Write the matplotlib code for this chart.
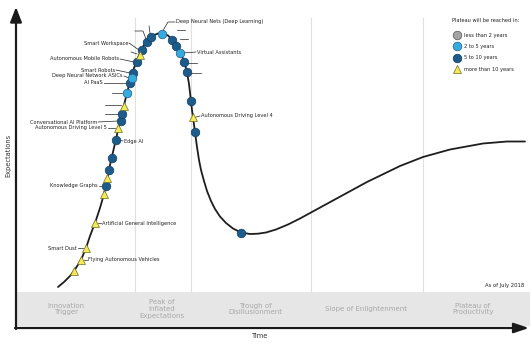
import matplotlib
matplotlib.use('Agg')
import matplotlib.pyplot as plt
from matplotlib import font_manager

# hype cycle curve (pixel coords, y down)
curve_x = [58, 64, 70, 74, 81, 86, 90, 95, 100, 104, 107, 110, 113, 116, 119, 122, 125, 128, 131, 134,
           137, 140, 144, 148, 153, 158, 163, 168, 172, 176, 180, 184, 187, 189, 190.5, 192, 193.5, 195,
           197, 199, 201, 204, 207, 211, 215, 220, 226, 233, 241, 250, 258, 266, 276, 288, 300, 311,
           333, 367, 400, 423, 450, 483, 507, 525]
curve_y = [287, 282, 276, 271, 260, 248, 236, 223, 208, 194, 180, 165, 152, 139, 126, 114, 101, 89, 78, 68,
           60, 53, 45, 39, 35.5, 33.5, 33.5, 35.5, 39.5, 45, 52, 61, 72, 84, 97, 110, 121, 132,
           147, 160, 170, 181, 191, 201, 209, 216.5, 223, 228.5, 232.5, 234, 233.7, 232.5, 229.5, 224.5, 218.5, 212.5,
           200.5, 182, 166, 157, 149.5, 143.5, 141.5, 141.5]

# technologies on the curve: position, years to plateau, label
tech_x = [74, 81, 86, 95, 104, 106, 107, 109, 112, 116, 118, 121, 122, 124, 127, 130, 132, 133,
          137, 140, 142, 147, 151, 162, 172, 176, 180, 184, 187, 191, 193, 195, 241]
tech_y = [271, 260, 248, 223, 194, 186, 178, 170, 158, 140, 128, 121, 114, 106, 93, 83, 78, 73,
          62, 55, 50, 42, 37, 33.5, 40, 46, 53, 62, 72, 101, 117, 132, 233]
tech_cat = ['>10', '>10', '>10', '>10', '>10', '5-10', '>10', '5-10', '5-10', '5-10', '>10', '5-10',
            '5-10', '>10', '2-5', '5-10', '2-5', '5-10', '5-10', '>10', '5-10', '5-10', '5-10', '2-5',
            '5-10', '5-10', '2-5', '5-10', '5-10', '5-10', '>10', '5-10', '5-10']
tech_label = ['', 'Flying Autonomous Vehicles', 'Smart Dust', 'Artificial General Intelligence', '',
              'Knowledge Graphs', '', '', '', 'Edge AI', 'Autonomous Driving Level 5',
              'Conversational AI Platform', '', '', '', 'AI PaaS', 'Deep Neural Network ASICs',
              'Smart Robots', 'Autonomous Mobile Robots', '', 'Smart Workspace', '', '',
              'Deep Neural Nets (Deep Learning)', '', '', 'Virtual Assistants', '', '', '',
              'Autonomous Driving Level 4', '', '']

phases = ['Innovation\nTrigger', 'Peak of\nInflated\nExpectations', 'Trough of\nDisillusionment',
          'Slope of Enlightenment', 'Plateau of\nProductivity']
legend_labels = ['less than 2 years', '2 to 5 years', '5 to 10 years', 'more than 10 years']
legend_cats = ['<2', '2-5', '5-10', '>10']

# ---- layout / style ----
colors = {'<2': '#a3a3a3', '2-5': '#36abdd', '5-10': '#1d5c8a', '>10': '#f3ea55'}
edge = {'<2': '#555555', '2-5': '#1d5c8a', '5-10': '#163f60', '>10': '#6b6b2a'}

# narrow font for the small labels, whatever is installed
fnames = {f.name for f in font_manager.fontManager.ttflist}
cond = [f for f in font_manager.fontManager.ttflist
        if f.name == 'DejaVu Sans' and 'condensed' in str(f.stretch)
        and f.weight in (400, 'normal', 'regular', 'book') and f.style == 'normal']
if 'Liberation Sans Narrow' in fnames:
    lab_font = font_manager.FontProperties(family='Liberation Sans Narrow', size=4.5)
elif cond:
    lab_font = font_manager.FontProperties(fname=cond[0].fname, size=4.1)
else:
    lab_font = font_manager.FontProperties(family='Liberation Sans', size=3.9)

# label anchor (text x, text y, side) keyed by label
label_pos = {
    'Flying Autonomous Vehicles': (88, 260, 'r'),
    'Smart Dust': (77, 248, 'l'),
    'Artificial General Intelligence': (102, 223, 'r'),
    'Knowledge Graphs': (98, 186, 'l'),
    'Edge AI': (124, 141, 'r'),
    'Autonomous Driving Level 5': (107, 128, 'l'),
    'Conversational AI Platform': (97, 122, 'l'),
    'AI PaaS': (103, 83, 'l'),
    'Deep Neural Network ASICs': (123, 76, 'l'),
    'Smart Robots': (115, 70, 'l'),
    'Autonomous Mobile Robots': (119, 59, 'l'),
    'Smart Workspace': (128, 43, 'l'),
    'Deep Neural Nets (Deep Learning)': (176, 22, 'r'),
    'Virtual Assistants': (197, 52, 'r'),
    'Autonomous Driving Level 4': (201, 116, 'r'),
}

# leader stubs without text: marker index -> polyline of offsets
stubs = {
    12: [(-17, 0), (-3, 0)],
    13: [(-19, -1), (-3, -1)],
    14: [(-15, 0), (-4, 0)],
    19: [(-9, -3), (-3, -1)],
    21: [(-12, -11), (-4, -11), (-1, -3)],
    22: [(-2, -11), (-1, -4)],
    24: [(5, -10), (13, -10)],
    25: [(4, -7), (12, -7)],
    27: [(3, 1), (13, 1)],
    28: [(4, 1), (14, 1)],
}

fig = plt.figure(figsize=(5.32, 3.45), dpi=100)
ax = fig.add_axes([0, 0, 1, 1])
ax.set_xlim(0, 532)
ax.set_ylim(345, 0)
ax.axis('off')

# phase band and separators
ax.fill_between([17, 530], 292, 326, color='#e6e6e6', lw=0, zorder=0)
for xs in [135, 191, 311, 423]:
    ax.plot([xs, xs], [18, 292], color='#e0e0e0', lw=0.8, zorder=0)
for px, txt in zip([66, 162, 255, 366, 473], phases):
    ax.text(px, 309, txt, ha='center', va='center', fontsize=5, color='#a8a8a8',
            linespacing=1.15)

# axes arrows
ax.annotate('', xy=(16, 7), xytext=(16, 329),
            arrowprops=dict(arrowstyle='-|>,head_length=0.9,head_width=0.35', color='#1a1a1a', lw=1.6,
                            shrinkA=0, shrinkB=0))
ax.annotate('', xy=(529, 328), xytext=(15, 328),
            arrowprops=dict(arrowstyle='-|>,head_length=0.9,head_width=0.3', color='#1a1a1a', lw=1.6,
                            shrinkA=0, shrinkB=0))
ax.text(8, 155, 'Expectations', rotation=90, ha='center', va='center', fontsize=4.8, color='#333333')
ax.text(260, 336, 'Time', ha='center', va='center', fontsize=4.8, color='#333333')
ax.text(524, 286, 'As of July 2018', ha='right', va='center', fontsize=3.8, color='#222222')

# the curve
ax.plot(curve_x, curve_y, color='#1e1e1e', lw=1.3, solid_capstyle='round',
        solid_joinstyle='round', zorder=2)

# leader lines + labels
for i, (x, y, lab) in enumerate(zip(tech_x, tech_y, tech_label)):
    if lab:
        tx, ty, side = label_pos[lab]
        if lab == 'Deep Neural Nets (Deep Learning)':
            ax.plot([x + 1, x + 6, tx - 1], [y - 3, ty, ty], color='#222222', lw=0.5, zorder=1)
        elif side == 'l':
            ax.plot([tx + 1, x - 3], [ty, y], color='#222222', lw=0.5, zorder=1)
        else:
            ax.plot([x + 3, tx - 1], [y, ty], color='#222222', lw=0.5, zorder=1)
        ax.text(tx, ty, lab, ha='right' if side == 'l' else 'left', va='center',
                fontproperties=lab_font, color='#222222')
    if i in stubs:
        pts = stubs[i]
        ax.plot([x + p[0] for p in pts], [y + p[1] for p in pts], color='#222222', lw=0.5, zorder=1)

# markers
for cat in ['5-10', '2-5', '>10']:
    xs = [x for x, c in zip(tech_x, tech_cat) if c == cat]
    ys = [y for y, c in zip(tech_y, tech_cat) if c == cat]
    ax.plot(xs, ys, ls='none', marker='^' if cat == '>10' else 'o', ms=6.2 if cat == '>10' else 6.2,
            mfc=colors[cat], mec=edge[cat], mew=0.5, zorder=3)

# legend
ax.text(452, 20, 'Plateau will be reached in:', ha='left', va='center',
        fontproperties=lab_font, color='#222222')
for k, (lab, cat) in enumerate(zip(legend_labels, legend_cats)):
    ly = 35 + k * 11.4
    ax.plot([457], [ly], ls='none', marker='^' if cat == '>10' else 'o', ms=6.2,
            mfc=colors[cat], mec=edge[cat], mew=0.5)
    ax.text(464, ly, lab, ha='left', va='center', fontproperties=lab_font, color='#222222')

fig.savefig('out.png', dpi=100, facecolor='white')
